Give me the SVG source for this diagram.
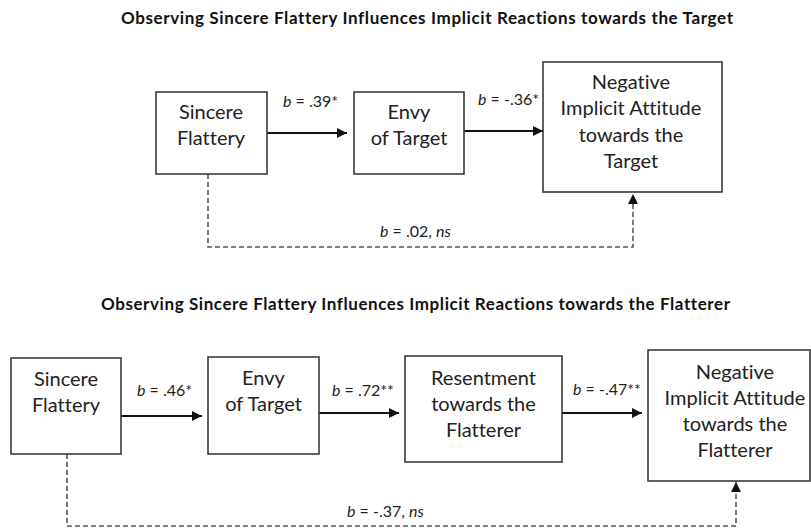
<svg xmlns="http://www.w3.org/2000/svg" width="811" height="528" viewBox="0 0 811 528">
<style>
.bg{fill:#fff}
.box{fill:#fff;stroke:#3a3a3a;stroke-width:1.6}
text{font-variant-ligatures:none}
.nt{font-family:Lato,"Open Sans","Liberation Sans",sans-serif;font-size:20px;fill:#222;text-anchor:middle}
.lb{font-family:Lato,"Open Sans","Liberation Sans",sans-serif;font-size:16px;fill:#222}
.ti{font-family:Lato,"Open Sans","Liberation Sans",sans-serif;font-size:17px;font-weight:bold;fill:#111}
.it{font-style:italic}
.solid{stroke:#111;stroke-width:2;fill:none}
.dash{stroke:#555;stroke-width:1.6;fill:none;stroke-dasharray:5 3}
</style>
<defs>
<marker id="ah" viewBox="0 0 10 10" refX="10" refY="5" markerWidth="11" markerHeight="10" markerUnits="userSpaceOnUse" orient="auto">
<path d="M0,0 L10,5 L0,10 z" fill="#111"/>
</marker>
</defs>
<rect class="bg" x="0" y="0" width="811" height="528"/>
<text class="ti" x="121" y="24" textLength="612">Observing Sincere Flattery Influences Implicit Reactions towards the Target</text>
<text class="ti" x="101" y="310" textLength="629">Observing Sincere Flattery Influences Implicit Reactions towards the Flatterer</text>

<g id="connectors">
<line class="solid" x1="267" y1="133" x2="347" y2="133" marker-end="url(#ah)"/>
<line class="solid" x1="464" y1="131" x2="543" y2="131" marker-end="url(#ah)"/>
<polyline class="dash" points="208,174 208,247 633,247 633,194" marker-end="url(#ah)"/>
<line class="solid" x1="121" y1="416" x2="202" y2="416" marker-end="url(#ah)"/>
<line class="solid" x1="319" y1="413" x2="399" y2="413" marker-end="url(#ah)"/>
<line class="solid" x1="562" y1="413" x2="642" y2="413" marker-end="url(#ah)"/>
<polyline class="dash" points="67,454 67,526 736,526 736,482" marker-end="url(#ah)"/>
<text class="lb" x="283" y="107"><tspan class="it">b</tspan> = .39*</text>
<text class="lb" x="478" y="105"><tspan class="it">b</tspan> = -.36*</text>
<text class="lb" x="380" y="237"><tspan class="it">b</tspan> = .02, <tspan class="it">ns</tspan></text>
<text class="lb" x="137" y="396"><tspan class="it">b</tspan> = .46*</text>
<text class="lb" x="332" y="396"><tspan class="it">b</tspan> = .72**</text>
<text class="lb" x="573" y="395"><tspan class="it">b</tspan> = -.47**</text>
<text class="lb" x="347" y="517"><tspan class="it">b</tspan> = -.37, <tspan class="it">ns</tspan></text>
</g>

<g id="t-sincere">
<rect class="box" x="156" y="92" width="111" height="82"/>
<text class="nt" x="211" y="119">Sincere</text>
<text class="nt" x="211" y="145">Flattery</text>
</g>
<g id="t-envy">
<rect class="box" x="354" y="92" width="110" height="82"/>
<text class="nt" x="409" y="119">Envy</text>
<text class="nt" x="409" y="145">of Target</text>
</g>
<g id="t-negative">
<rect class="box" x="543" y="62" width="179" height="130"/>
<text class="nt" x="631" y="89">Negative</text>
<text class="nt" x="631" y="115">Implicit Attitude</text>
<text class="nt" x="631" y="142">towards the</text>
<text class="nt" x="631" y="168">Target</text>
</g>

<g id="b-sincere">
<rect class="box" x="11" y="358" width="110" height="96"/>
<text class="nt" x="66" y="386">Sincere</text>
<text class="nt" x="66" y="412">Flattery</text>
</g>
<g id="b-envy">
<rect class="box" x="208" y="357" width="111" height="97"/>
<text class="nt" x="263.5" y="385">Envy</text>
<text class="nt" x="263.5" y="411">of Target</text>
</g>
<g id="b-resentment">
<rect class="box" x="405" y="356" width="157" height="106"/>
<text class="nt" x="483.5" y="385">Resentment</text>
<text class="nt" x="483.5" y="411">towards the</text>
<text class="nt" x="483.5" y="437">Flatterer</text>
</g>
<g id="b-negative">
<rect class="box" x="648" y="350" width="162" height="131"/>
<text class="nt" x="735" y="379">Negative</text>
<text class="nt" x="735" y="405">Implicit Attitude</text>
<text class="nt" x="735" y="431">towards the</text>
<text class="nt" x="735" y="457">Flatterer</text>
</g>
</svg>
